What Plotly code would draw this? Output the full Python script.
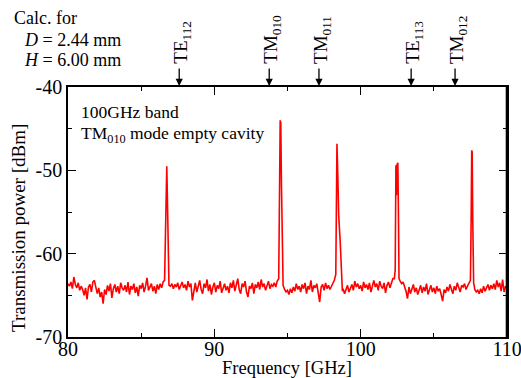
import plotly.graph_objects as go

# Baseline spectrum sampled every 0.1 GHz from 80.0 to 110.0 GHz (dBm)
noise_start = 80.0
noise_step = 0.1
noise_power = [
    -63.6, -63.9, -63.4, -64.2, -62.8, -63.7, -64.1, -63.5, -64.4, -63.9,  # 80
    -64.3, -65.0, -64.1, -65.5, -64.0, -63.7, -64.6, -63.4, -63.2, -64.2,  # 81
    -64.8, -64.1, -65.2, -64.6, -66.0, -64.3, -64.9, -63.8, -64.5, -63.6,  # 82
    -65.3, -64.2, -63.7, -64.6, -63.9, -64.8, -63.5, -64.1, -64.4, -63.8,  # 83
    -64.6, -63.4, -64.9, -63.9, -64.3, -63.6, -64.7, -64.0, -65.1, -63.8,  # 84
    -64.2, -63.5, -64.6, -63.9, -62.9, -64.4, -64.0, -63.6, -64.5, -63.9,  # 85
    -64.8, -63.7, -64.3, -63.6, -64.1, -63.4, -63.0, -63.5, -63.8, -63.7,  # 86
    -63.9, -63.6, -64.2, -63.7, -64.0, -63.5, -64.3, -63.8, -63.4, -64.1,  # 87
    -63.7, -64.4, -63.3, -64.0, -63.6, -65.6, -64.2, -63.5, -64.6, -63.9,  # 88
    -63.2, -64.3, -64.8, -63.6, -64.1, -63.1, -64.5, -63.7, -64.9, -64.0,  # 89
    -63.5, -64.6, -63.8, -64.2, -63.3, -64.7, -64.0, -63.6, -64.4, -63.9,  # 90
    -64.7, -63.5, -64.1, -63.2, -64.5, -63.8, -63.0, -64.3, -64.8, -63.6,  # 91
    -64.0, -63.3, -64.6, -65.2, -63.9, -64.2, -63.5, -64.8, -63.7, -64.1,  # 92
    -63.4, -64.3, -63.1, -64.0, -63.6, -64.4, -63.8, -63.3, -64.2, -63.7,  # 93
    -63.9, -63.5, -64.0, -63.3, -63.0, -63.4, -63.8, -63.8, -64.3, -64.6,  # 94
    -64.4, -64.9, -64.2, -64.7, -64.0, -64.5, -63.6, -64.3, -63.9, -64.6,  # 95
    -63.7, -64.2, -63.5, -64.8, -63.9, -64.3, -63.2, -64.6, -63.8, -64.1,  # 96
    -63.6, -64.5, -65.8, -64.0, -63.7, -64.4, -63.5, -64.2, -63.8, -64.3,  # 97
    -63.9, -63.5, -63.2, -63.5, -63.8, -64.0, -64.2, -64.4, -64.2, -64.8,  # 98
    -64.3, -63.8, -64.6, -64.1, -63.7, -64.4, -63.3, -64.0, -63.6, -64.2,  # 99
    -63.8, -64.5, -63.4, -64.1, -63.7, -64.3, -63.5, -64.6, -63.9, -63.2,  # 100
    -64.0, -63.6, -64.4, -63.3, -63.9, -64.2, -63.5, -64.7, -63.8, -63.4,  # 101
    -64.1, -63.5, -63.0, -63.2, -63.5, -63.6, -63.4, -63.3, -63.6, -63.4,  # 102
    -63.9, -64.5, -65.4, -64.0, -64.8, -64.2, -63.7, -64.6, -64.1, -64.9,  # 103
    -64.3, -63.8, -64.7, -64.0, -64.5, -63.6, -64.9, -64.2, -63.8, -64.6,  # 104
    -64.1, -64.8, -63.9, -64.5, -64.2, -64.9, -65.7, -64.3, -64.7, -64.0,  # 105
    -64.5, -63.7, -64.3, -64.8, -63.9, -64.4, -63.5, -64.2, -64.6, -63.8,  # 106
    -64.0, -63.6, -64.3, -63.9, -63.5, -63.2, -63.5, -63.6, -64.3, -64.6,  # 107
    -64.4, -64.8, -64.2, -64.7, -63.9, -64.5, -64.1, -63.7, -64.4, -63.8,  # 108
    -64.2, -63.6, -64.3, -63.2, -64.0, -63.5, -64.5, -63.1, -64.6, -63.9,  # 109
    -64.1,                                                                 # 110
]

# Resonance peaks (GHz, dBm)
peak1_freq = [86.60, 86.66, 86.71, 86.75, 86.80, 86.86, 86.90]
peak1_power = [-63.2, -56.0, -49.6, -49.5, -54.0, -63.0, -63.8]

peak2_freq = [94.40, 94.45, 94.50, 94.54, 94.59, 94.65, 94.70]
peak2_power = [-63.0, -55.0, -44.0, -44.3, -52.0, -62.0, -63.8]

peak3_freq = [98.20, 98.30, 98.35, 98.38, 98.43, 98.50, 98.60, 98.75]
peak3_power = [-63.2, -62.5, -52.0, -46.8, -50.0, -55.5, -58.5, -64.5]

peak4_freq = [102.30, 102.36, 102.41, 102.45, 102.49, 102.54, 102.58, 102.62, 102.70]
peak4_power = [-63.0, -62.0, -49.4, -53.0, -49.3, -49.1, -55.0, -63.0, -63.3]

peak5_freq = [107.50, 107.55, 107.59, 107.62, 107.66, 107.72, 107.80]
peak5_power = [-63.2, -56.0, -47.6, -47.8, -56.0, -63.5, -64.3]

# Calculated mode positions (GHz)
mode_freq = [87.6, 93.75, 97.15, 103.45, 106.45]
mode_label = ["TE<sub>112</sub>", "TM<sub>010</sub>", "TM<sub>011</sub>",
              "TE<sub>113</sub>", "TM<sub>012</sub>"]

x_ticks = [80, 90, 100, 110]
y_ticks = [-70, -60, -50, -40]

# ---- merge baseline grid with peaks ----
peaks = [(peak1_freq, peak1_power), (peak2_freq, peak2_power),
         (peak3_freq, peak3_power), (peak4_freq, peak4_power),
         (peak5_freq, peak5_power)]
pts = []
for i, p in enumerate(noise_power):
    f = round(noise_start + i * noise_step, 3)
    if any(min(pf) - 1e-6 <= f <= max(pf) + 1e-6 for pf, _ in peaks):
        continue
    pts.append((f, p))
for pf, pp in peaks:
    pts.extend(zip(pf, pp))
pts.sort()
freq = [a for a, _ in pts]
power = [b for _, b in pts]

FONT = "Liberation Serif, Times New Roman, serif"
L, R, T, B = 68, 14, 87, 41
W, H = 521, 378
PW, PH = W - L - R, H - T - B


def px(xp):
    return (xp - L) / PW


def py(yp):
    return (H - B - yp) / PH


fig = go.Figure()
fig.add_trace(go.Scatter(x=freq, y=power, mode="lines",
                         line=dict(color="#ff0000", width=1.6),
                         showlegend=False, hoverinfo="skip"))

axis_common = dict(showgrid=False, zeroline=False, showline=True,
                   linecolor="black", linewidth=1.6, mirror="ticks",
                   ticks="inside", ticklen=8, tickwidth=1.4, tickcolor="black",
                   automargin=False, ticklabeloverflow="allow",
                   tickfont=dict(family=FONT, size=20, color="black"))

fig.update_xaxes(range=[80, 110], tickvals=x_ticks,
                 ticktext=[str(v) for v in x_ticks],
                 ticklabelstandoff=-7,
                 minor=dict(ticks="inside", ticklen=4, tickwidth=1.4,
                            dtick=5, tick0=80, tickcolor="black"),
                 **axis_common)
fig.update_yaxes(range=[-70, -40], tickvals=y_ticks,
                 ticktext=["-70", "-60", "-50", "-40"],
                 minor=dict(ticks="inside", ticklen=4, tickwidth=1.4,
                            dtick=5, tick0=-70, tickcolor="black"),
                 **axis_common)

anns = []
# axis titles
anns.append(dict(x=px(287), y=py(368), xref="paper", yref="paper",
                 text="Frequency [GHz]", showarrow=False,
                 xanchor="center", yanchor="middle",
                 font=dict(family=FONT, size=18.5, color="black")))
anns.append(dict(x=px(18), y=py(228), xref="paper", yref="paper",
                 text="Transmission power [dBm]", showarrow=False,
                 textangle=-90, xanchor="center", yanchor="middle",
                 font=dict(family=FONT, size=19, color="black")))

# arrows + rotated labels
for f, lab in zip(mode_freq, mode_label):
    anns.append(dict(x=f, y=1.0, xref="x", yref="paper", text="",
                     showarrow=True, arrowhead=2, arrowsize=1.1,
                     arrowwidth=1.3, arrowcolor="black", ax=0, ay=-20,
                     standoff=1))
    anns.append(dict(x=f, y=py(66), xref="x", yref="paper", text=lab,
                     textangle=-90, showarrow=False, xanchor="center",
                     yanchor="bottom", xshift=3,
                     font=dict(family=FONT, size=19, color="black")))

# top-left calculation note
note = [("Calc. for", 18, 12), ("<i>D</i> = 2.44 mm", 40, 22),
        ("<i>H</i> = 6.00 mm", 60, 22)]
for txt, ypx, xpx in note:
    anns.append(dict(x=px(xpx), y=py(ypx), xref="paper", yref="paper",
                     text=txt, showarrow=False,
                     xanchor="left", yanchor="middle",
                     font=dict(family=FONT, size=18, color="black")))

# inside label
anns.append(dict(x=px(79), y=py(112), xref="paper", yref="paper",
                 text="100GHz band", showarrow=False,
                 xanchor="left", yanchor="middle",
                 font=dict(family=FONT, size=17.5, color="black")))
anns.append(dict(x=px(79), y=py(134), xref="paper", yref="paper",
                 text="TM<sub>010</sub> mode empty cavity",
                 showarrow=False, xanchor="left", yanchor="middle",
                 font=dict(family=FONT, size=17.5, color="black")))

fig.update_layout(width=W, height=H,
                  margin=dict(l=L, r=R, t=T, b=B, autoexpand=False),
                  paper_bgcolor="white", plot_bgcolor="white",
                  annotations=anns,
                  shapes=[dict(type="line", xref="paper", yref="paper",
                               x0=1, x1=1, y0=0, y1=1,
                               line=dict(color="black", width=2.6),
                               layer="above")],
                  font=dict(family=FONT, color="black"))

fig.write_html("out.html",
               config={"displayModeBar": False},
               post_script="document.body.style.margin='0';"
                           "document.body.style.padding='0';"
                           "document.body.style.overflow='hidden';")
